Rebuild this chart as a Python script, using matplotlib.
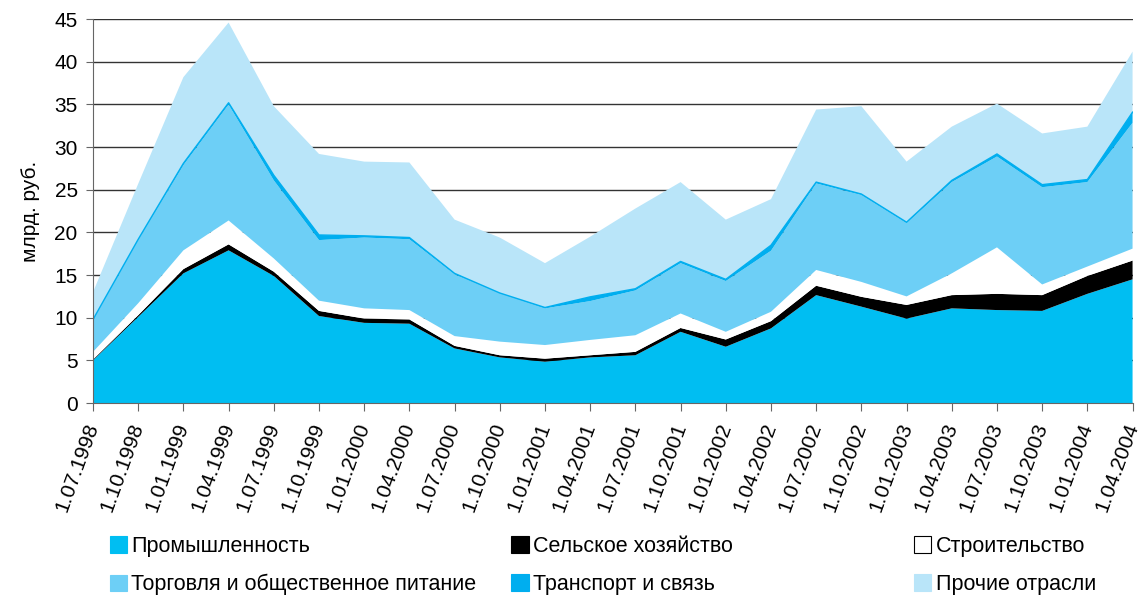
import numpy as np
import matplotlib
matplotlib.use('Agg')
import matplotlib.pyplot as plt
from matplotlib.patches import Patch

plt.rcParams['font.family'] = ['Liberation Sans', 'DejaVu Sans']

dates = ['1.07.1998', '1.10.1998', '1.01.1999', '1.04.1999', '1.07.1999', '1.10.1999',
         '1.01.2000', '1.04.2000', '1.07.2000', '1.10.2000', '1.01.2001', '1.04.2001',
         '1.07.2001', '1.10.2001', '1.01.2002', '1.04.2002', '1.07.2002', '1.10.2002',
         '1.01.2003', '1.04.2003', '1.07.2003', '1.10.2003', '1.01.2004', '1.04.2004']

# млрд. руб.
industry = [5.0, 10.1, 15.2, 17.9, 14.9, 10.2, 9.4, 9.3, 6.4, 5.35, 4.85, 5.35,
            5.6, 8.35, 6.6, 8.75, 12.65, 11.3, 9.9, 11.1, 10.9, 10.8, 12.8, 14.5]
agriculture = [0.1, 0.2, 0.5, 0.7, 0.5, 0.6, 0.5, 0.5, 0.3, 0.25, 0.35, 0.25,
               0.4, 0.45, 0.85, 0.85, 1.1, 1.15, 1.6, 1.55, 1.9, 1.85, 2.1, 2.2]
construction = [0.9, 1.4, 2.2, 2.8, 1.55, 1.2, 1.2, 1.1, 1.15, 1.6, 1.6, 1.8,
                1.95, 1.7, 0.9, 1.1, 1.85, 1.75, 1.0, 2.55, 5.45, 1.25, 1.1, 1.4]
trade = [3.7, 7.4, 10.0, 13.6, 9.15, 7.1, 8.3, 8.3, 7.25, 5.65, 4.3, 4.55,
         5.25, 5.9, 5.95, 7.15, 10.15, 10.2, 8.6, 10.7, 10.65, 11.4, 9.9, 14.75]
transport = [0.1, 0.1, 0.2, 0.2, 0.6, 0.6, 0.2, 0.2, 0.1, 0.05, 0.1, 0.5,
             0.2, 0.2, 0.2, 0.65, 0.15, 0.1, 0.1, 0.2, 0.3, 0.3, 0.3, 1.25]
other = [3.2, 6.5, 10.1, 9.4, 8.1, 9.5, 8.7, 8.8, 6.3, 6.5, 5.2, 7.05,
         9.4, 9.3, 7.0, 5.4, 8.5, 10.3, 7.1, 6.3, 5.9, 6.0, 6.2, 7.1]

labels = ['Промышленность', 'Сельское хозяйство', 'Строительство',
          'Торговля и общественное питание', 'Транспорт и связь', 'Прочие отрасли']
colors = ['#00BEF2', '#000000', '#FFFFFF', '#6DCFF6', '#00AEEF', '#B9E5F9']

x = np.arange(len(dates))
series = [industry, agriculture, construction, trade, transport, other]

fig = plt.figure(figsize=(11.44, 5.98), dpi=100)
ax = fig.add_axes([0.0813, 0.326, 0.9087, 0.642])

ax.stackplot(x, *series, colors=colors, linewidth=0)
# transport band is thin, give it a visible edge
top_trade = np.sum(series[:4], axis=0)
ax.plot(x, top_trade + np.array(transport), color='#00AEEF', linewidth=1.0)

ax.set_xlim(0, len(dates) - 1)
ax.set_ylim(0, 45)
ax.set_yticks(range(0, 50, 5))
ax.set_axisbelow(True)
ax.yaxis.grid(True, color='#333333', linewidth=1.0)

ax.set_xticks(x)
ax.set_xticklabels(dates, rotation=70, ha='right', va='center', rotation_mode='anchor',
                   fontsize=15)
ax.tick_params(axis='x', length=6, color='#666666', pad=9)
ax.tick_params(axis='y', length=5, color='#666666', labelsize=15, pad=6)

for s in ['top', 'right']:
    ax.spines[s].set_visible(False)
ax.spines['left'].set_color('#666666')
ax.spines['bottom'].set_color('#666666')

ax.set_ylabel('млрд. руб.', fontsize=15, labelpad=10)

handles = [Patch(facecolor=c, edgecolor='black' if c == '#FFFFFF' else c, linewidth=0.8)
           for c in colors]

cols_x = [0.096, 0.447, 0.799]
for k in range(3):
    idx = [k, k + 3]
    fig.legend([handles[i] for i in idx], [labels[i] for i in idx],
               loc='upper left', bbox_to_anchor=(cols_x[k], 0.104),
               bbox_transform=fig.transFigure, frameon=False, fontsize=15.5,
               handlelength=0.8, handleheight=0.8, handletextpad=0.2,
               labelspacing=0.8, borderpad=0, borderaxespad=0)

fig.savefig('out.png', dpi=100)
